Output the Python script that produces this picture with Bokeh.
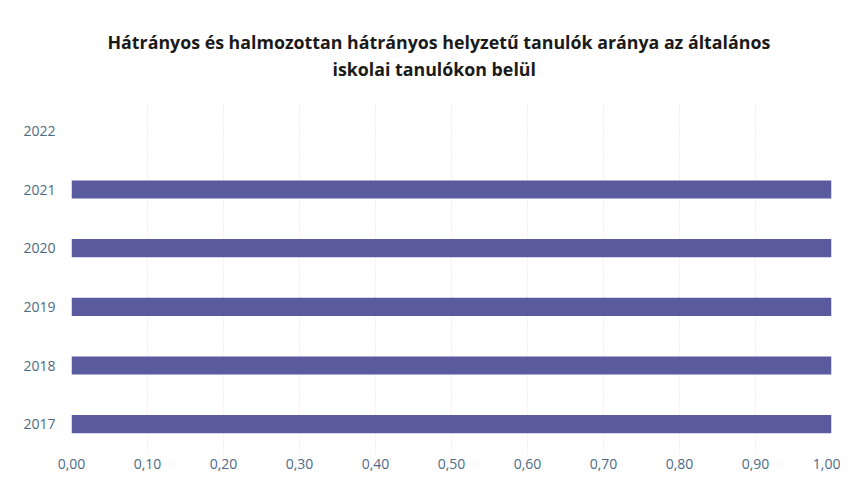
from bokeh.plotting import figure
from bokeh.models import Range1d, FixedTicker, Title
from bokeh.embed import file_html
from bokeh.resources import INLINE

years = ["2017", "2018", "2019", "2020", "2021", "2022"]
values = [1.0, 1.0, 1.0, 1.0, 1.0, float("nan")]
x_ticks = [0.0, 0.1, 0.2, 0.3, 0.4, 0.5, 0.6, 0.7, 0.8, 0.9, 1.0]
x_tick_labels = ["0,00", "0,10", "0,20", "0,30", "0,40", "0,50", "0,60", "0,70", "0,80", "0,90", "1,00"]
title_lines = ["Hátrányos és halmozottan hátrányos helyzetű  tanulók aránya az általános",
               "iskolai tanulókon belül"]

FONT = "Open Sans"
TXT = "#4d6a86"

p = figure(width=840, height=480, y_range=years, x_range=Range1d(0, 1),
           output_backend="svg", toolbar_location=None,
           min_border_left=71, min_border_right=9, min_border_bottom=27, min_border_top=101)

p.hbar(y=years, right=values, left=0, height=0.31, color="#5a5a9e", line_color=None)

# spacer between the title block and the plot frame
p.add_layout(Title(text=" ", text_font=FONT, text_font_size="10px", standoff=5), "above")
standoffs = [0, 1]
offsets = [261, 36]
for t, so, off in zip(reversed(title_lines), standoffs, offsets):
    p.add_layout(Title(text=t, align="left", text_font=FONT, text_font_size="17.8px",
                       text_font_style="bold", text_color="#1a1a1a",
                       standoff=so, offset=off), "above")

p.outline_line_color = None
p.background_fill_color = "white"
p.border_fill_color = "white"

p.xaxis.ticker = FixedTicker(ticks=x_ticks)
p.xaxis.major_label_overrides = {t: l for t, l in zip(x_ticks, x_tick_labels)}
for ax in (p.xaxis[0], p.yaxis[0]):
    ax.axis_line_color = None
    ax.major_tick_line_color = None
    ax.minor_tick_line_color = None
    ax.major_tick_out = 0
    ax.minor_tick_out = 0
    ax.major_label_text_font = FONT
    ax.major_label_text_font_size = "14px"
    ax.major_label_text_color = TXT
p.xaxis.major_label_standoff = 5
p.yaxis.major_label_standoff = 16

p.xgrid.grid_line_color = "#c6e6ef"
p.xgrid.grid_line_dash = "1 2"
p.xgrid.grid_line_width = 1
p.ygrid.grid_line_color = None

open("out.html", "w").write(file_html(p, INLINE))
